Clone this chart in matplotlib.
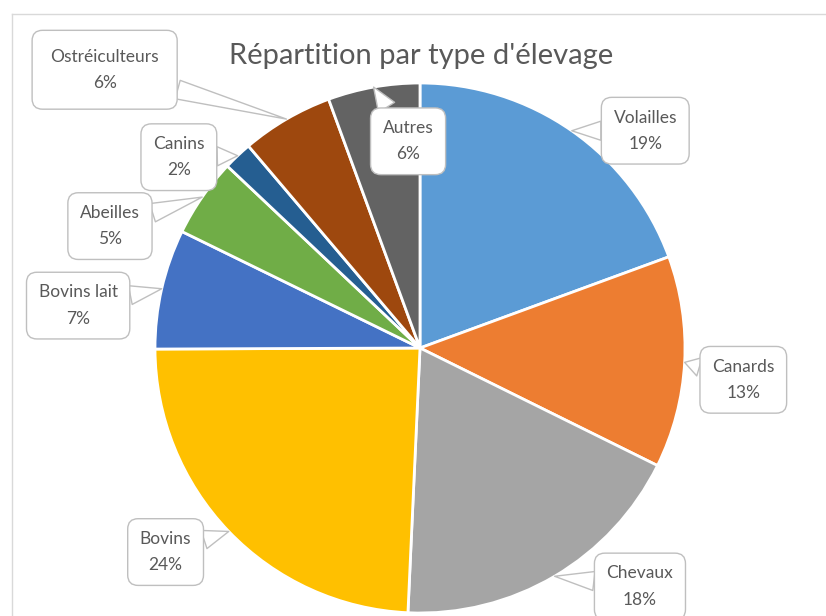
import matplotlib.pyplot as plt
from matplotlib.lines import Line2D
import numpy as np

# Données (parts estimées d'après les angles)
categories = ['Volailles', 'Canards', 'Chevaux', 'Bovins', 'Bovins lait',
              'Abeilles', 'Canins', 'Ostréiculteurs', 'Autres']
values = [19.4, 12.9, 18.4, 24.2, 7.3, 4.8, 1.75, 5.6, 5.6]
colors = ['#5B9BD5', '#ED7D31', '#A5A5A5', '#FFC000', '#4472C4',
          '#70AD47', '#255E91', '#9E480E', '#636363']

# position des étiquettes (en rayons du camembert)
label_pos = [(0.85, 0.82), (1.22, -0.12), (0.83, -0.90), (-0.96, -0.77),
             (-1.29, 0.16), (-1.17, 0.46), (-0.91, 0.72), (-1.19, 1.05),
             (-0.045, 0.78)]
label_pad = [0.7, 0.7, 0.7, 0.7, 0.7, 0.7, 0.7, 1.05, 0.7]

plt.rcParams['font.family'] = ['Lato', 'DejaVu Sans']
W, H = 826, 616
R = 265.0  # rayon en pixels
cx, cy = 420, 348

fig = plt.figure(figsize=(W / 100, H / 100), dpi=100)
ax = fig.add_axes([0, 0, 1, 1])

wedges, _ = ax.pie(values, colors=colors, startangle=90, counterclock=False,
                   wedgeprops=dict(edgecolor='white', linewidth=2))

ax.set_xlim(-cx / R, (W - cx) / R)
ax.set_ylim((cy - H) / R, cy / R)
ax.set_aspect('auto')
ax.axis('off')

total = sum(values)
for w, cat, v, pos, pad in zip(wedges, categories, values, label_pos, label_pad):
    ang = np.deg2rad((w.theta1 + w.theta2) / 2)
    tip = (np.cos(ang), np.sin(ang))
    ax.annotate(f'{cat}\n{v / total * 100:.0f}%', xy=tip, xytext=pos,
                ha='center', va='center', fontsize=12.5, color='#595959',
                linespacing=1.8,
                bbox=dict(boxstyle=f'round,pad={pad},rounding_size=0.6',
                          fc='white', ec='#BFBFBF', lw=1),
                arrowprops=dict(arrowstyle='wedge,tail_width=1.1',
                                fc='white', ec='#BFBFBF', lw=1,
                                shrinkA=0, shrinkB=0))

fig.text(cx / W + 0.001, 1 - 56 / H, "Répartition par type d'élevage",
         ha='center', va='center', fontsize=21, color='#595959')

# cadre du graphique
fig.add_artist(Line2D([12 / W, 12 / W], [0, 1 - 14 / H], color='#D9D9D9', lw=1))
fig.add_artist(Line2D([12 / W, 1], [1 - 14 / H, 1 - 14 / H], color='#D9D9D9', lw=1))

fig.savefig('out.png', dpi=100, facecolor='white')
